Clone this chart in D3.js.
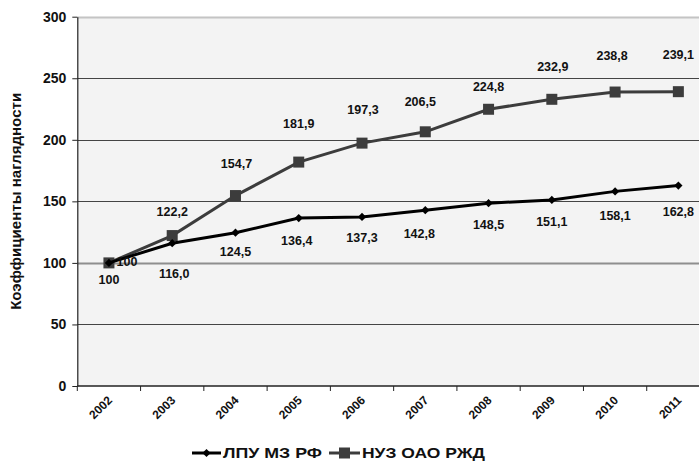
<!DOCTYPE html>
<html>
<head>
<meta charset="utf-8">
<script src="https://cdn.jsdelivr.net/npm/d3@7"></script>
<style>
  html, body { margin: 0; padding: 0; background: #ffffff; }
  svg { display: block; font-family: "Liberation Sans", Arial, sans-serif; font-weight: bold; }
</style>
</head>
<body>
<svg id="chart" width="699" height="474"></svg>
<script>
// Годы наблюдения
const years = ["2002", "2003", "2004", "2005", "2006", "2007", "2008", "2009", "2010", "2011"];

// Коэффициенты наглядности по двум группам учреждений
const lpuValues = [100, 116.0, 124.5, 136.4, 137.3, 142.8, 148.5, 151.1, 158.1, 162.8];
const nuzValues = [100, 122.2, 154.7, 181.9, 197.3, 206.5, 224.8, 232.9, 238.8, 239.1];

const seriesNames = ["ЛПУ МЗ РФ", "НУЗ ОАО РЖД"];
const yTicks = [0, 50, 100, 150, 200, 250, 300];

// Подписи значений: сдвиг относительно маркера (px)
const lpuLabelDx = [0, 2, 0, -2, 0, -6, 0, 0, 0, 0];
const lpuLabelDy = [17, 30, 19, 23, 21, 23, 21, 22, 24, 26];
const nuzLabelDx = [18, 0, 1, 0, 1, -5, 0, 1, -3, 0];
const nuzLabelDy = [-1, -24, -32, -38, -33, -30, -23, -33, -36, -37];

const fmt = v => v === 100 ? "100" : v.toFixed(1).replace(".", ",");

const svg = d3.select("#chart");
const plotLeft = 77.3, plotRight = 710, plotTop = 16.7, plotBottom = 386;

const x = d3.scaleBand().domain(years).range([plotLeft, plotRight]);
const y = d3.scaleLinear().domain([0, 300]).range([plotBottom, plotTop]);

// Plot area background
svg.append("rect")
  .attr("x", plotLeft).attr("y", plotTop)
  .attr("width", plotRight - plotLeft).attr("height", plotBottom - plotTop)
  .attr("fill", "#f3f3f3");

// Horizontal gridlines
svg.append("g").selectAll("line")
  .data(yTicks.filter(d => d > 0))
  .join("line")
  .attr("x1", plotLeft).attr("x2", plotRight)
  .attr("y1", d => Math.round(y(d)) + 0.5).attr("y2", d => Math.round(y(d)) + 0.5)
  .attr("stroke", d => d === 300 ? "#c4c4c4" : d === 100 ? "#8e8e8e" : "#444")
  .attr("stroke-width", d => d === 300 || d === 100 ? 2 : 1);

// Y axis
const yAxis = svg.append("g")
  .attr("transform", `translate(${plotLeft},0)`)
  .call(d3.axisLeft(y).tickValues(yTicks).tickSize(5).tickSizeOuter(0).tickPadding(6));
yAxis.select(".domain").attr("stroke", "#222").attr("stroke-width", 1.2);
yAxis.selectAll(".tick line").attr("stroke", "#222");
yAxis.selectAll(".tick text")
  .attr("font-size", 14).attr("font-weight", "bold").attr("fill", "#111")
  .attr("font-family", "Liberation Sans, Arial, sans-serif");

// X axis: baseline, ticks on band boundaries, rotated year labels
svg.append("line")
  .attr("x1", plotLeft).attr("x2", plotRight)
  .attr("y1", plotBottom).attr("y2", plotBottom)
  .attr("stroke", "#222").attr("stroke-width", 1.5);

svg.append("g").selectAll("line")
  .data(years)
  .join("line")
  .attr("x1", d => x(d)).attr("x2", d => x(d))
  .attr("y1", plotBottom).attr("y2", plotBottom + 5)
  .attr("stroke", "#222").attr("stroke-width", 1);

svg.append("g").selectAll("text")
  .data(years)
  .join("text")
  .attr("transform", d => `translate(${x(d) + x.bandwidth() / 2 - 2},${plotBottom + 9}) rotate(-45)`)
  .attr("text-anchor", "end")
  .attr("dy", "0.7em")
  .attr("font-size", 12)
  .attr("fill", "#111")
  .text(d => d);

// Y axis title
svg.append("text")
  .attr("transform", `translate(21,${(plotTop + plotBottom) / 2}) rotate(-90)`)
  .attr("text-anchor", "middle")
  .attr("font-size", 14)
  .attr("textLength", 217)
  .attr("lengthAdjust", "spacingAndGlyphs")
  .attr("fill", "#111")
  .text("Коэффициенты наглядности");

const cx = d => x(d) + x.bandwidth() / 2;
const line = d3.line().x((v, i) => cx(years[i])).y(v => y(v));

// НУЗ ОАО РЖД series (squares)
svg.append("path")
  .datum(nuzValues)
  .attr("d", line)
  .attr("fill", "none").attr("stroke", "#3c3c3c").attr("stroke-width", 3);

svg.append("g").selectAll("rect")
  .data(nuzValues)
  .join("rect")
  .attr("x", (v, i) => cx(years[i]) - 5.5)
  .attr("y", v => y(v) - 5.5)
  .attr("width", 11).attr("height", 11)
  .attr("fill", "#3c3c3c");

// ЛПУ МЗ РФ series (diamonds)
svg.append("path")
  .datum(lpuValues)
  .attr("d", line)
  .attr("fill", "none").attr("stroke", "#000").attr("stroke-width", 3);

svg.append("g").selectAll("path")
  .data(lpuValues)
  .join("path")
  .attr("transform", (v, i) => `translate(${cx(years[i])},${y(v)}) rotate(45)`)
  .attr("d", d3.symbol().type(d3.symbolSquare).size(34))
  .attr("fill", "#000");

// Value labels
svg.append("g").selectAll("text")
  .data(lpuValues)
  .join("text")
  .attr("x", (v, i) => cx(years[i]) + lpuLabelDx[i])
  .attr("y", (v, i) => y(v) + lpuLabelDy[i])
  .attr("dy", "0.35em")
  .attr("text-anchor", "middle")
  .attr("font-size", 12.5)
  .attr("fill", "#111")
  .text(fmt);

svg.append("g").selectAll("text")
  .data(nuzValues)
  .join("text")
  .attr("x", (v, i) => cx(years[i]) + nuzLabelDx[i])
  .attr("y", (v, i) => y(v) + nuzLabelDy[i])
  .attr("dy", "0.35em")
  .attr("text-anchor", "middle")
  .attr("font-size", 12.5)
  .attr("fill", "#111")
  .text(fmt);

// Legend
const legend = svg.append("g").attr("transform", "translate(0,453)");
const legendItems = [
  { name: seriesNames[0], x0: 192, x1: 221, width: 99, color: "#000", shape: "diamond" },
  { name: seriesNames[1], x0: 329, x1: 360, width: 123, color: "#3c3c3c", shape: "square" }
];
legendItems.forEach(it => {
  legend.append("line")
    .attr("x1", it.x0).attr("x2", it.x1).attr("y1", 0).attr("y2", 0)
    .attr("stroke", it.color).attr("stroke-width", 3);
  const mx = (it.x0 + it.x1) / 2;
  if (it.shape === "square") {
    legend.append("rect").attr("x", mx - 5.5).attr("y", -5.5)
      .attr("width", 11).attr("height", 11).attr("fill", it.color);
  } else {
    legend.append("path")
      .attr("transform", `translate(${mx},0) rotate(45)`)
      .attr("d", d3.symbol().type(d3.symbolSquare).size(34))
      .attr("fill", it.color);
  }
  legend.append("text")
    .attr("x", it.x1 + 2).attr("y", 0).attr("dy", "0.36em")
    .attr("font-size", 15)
    .attr("textLength", it.width)
    .attr("lengthAdjust", "spacingAndGlyphs")
    .attr("fill", "#111")
    .text(it.name);
});
</script>
</body>
</html>
